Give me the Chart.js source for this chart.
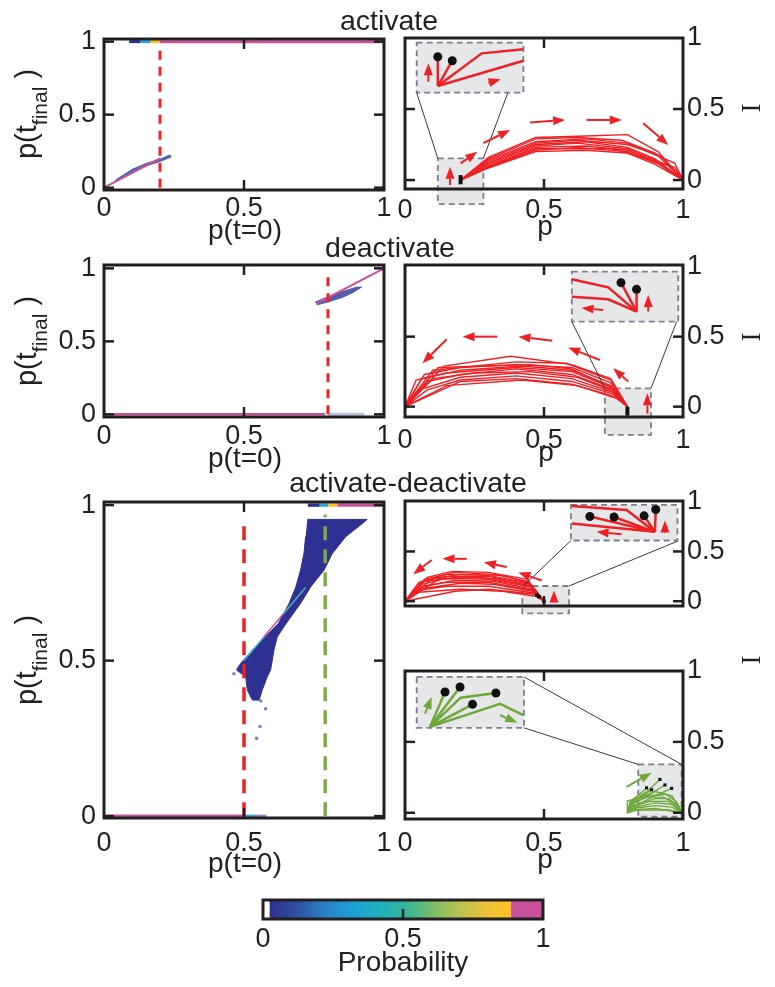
<!DOCTYPE html>
<html>
<head>
<meta charset="utf-8">
<script src="https://cdn.jsdelivr.net/npm/chart.js@4.4.1/dist/chart.umd.min.js"></script>
<style>
body{margin:0;background:#fff}
#wrap{position:relative;width:775px;height:987px;overflow:hidden}
#wrap canvas{position:absolute;left:0;top:0}
.lbl{position:absolute;white-space:nowrap;color:#231f20;font-family:'Liberation Sans',Arial,sans-serif}
</style>
</head>
<body>
<div id="wrap">
<canvas id="heatAct" width="775" height="987"></canvas>
<canvas id="trajAct" width="775" height="987"></canvas>
<canvas id="heatDeact" width="775" height="987"></canvas>
<canvas id="trajDeact" width="775" height="987"></canvas>
<canvas id="heatAD" width="775" height="987"></canvas>
<canvas id="trajADred" width="775" height="987"></canvas>
<canvas id="trajADgreen" width="775" height="987"></canvas>
<canvas id="colorbar" width="775" height="987"></canvas>
</div>
<script>
// ---------- data ----------
const tickMain = [0, 0.5, 1];

// activate: p(t_final) vs p(t=0)
const actThreshold = 0.2;
const actDiag = [[0, 0], [0.2, 0.2]];
const actBlob = [[0.04, 0.05], [0.1, 0.125], [0.15, 0.165], [0.2, 0.195], [0.235, 0.224], [0.24, 0.21], [0.2, 0.18], [0.15, 0.148], [0.1, 0.108], [0.04, 0.04]];
const actTopSeg = [[0.09, 0.13], [0.13, 0.165], [0.165, 0.2], [0.2, 1]];

// deactivate
const deactThreshold = 0.8;
const deactBottomSeg = [[0, 0.79], [0.8, 0.93]];
const deactDiag = [[0.76, 0.76], [1, 1]];
const deactBlob = [[0.755, 0.77], [0.8, 0.805], [0.85, 0.84], [0.9, 0.87], [0.92, 0.872], [0.89, 0.835], [0.85, 0.8], [0.8, 0.77], [0.76, 0.75]];

// activate-deactivate
const adThresholdRed = 0.5;
const adThresholdGreen = 0.79;
const adBottomSeg = [[0, 0.5], [0.5, 0.54], [0.54, 0.58]];
const adTopSeg = [[0.728, 0.77], [0.77, 0.8], [0.8, 0.833], [0.833, 1]];
const adBlob = [[0.726, 0.954], [0.94, 0.954], [0.923, 0.941], [0.863, 0.898], [0.815, 0.844], [0.786, 0.791], [0.738, 0.737], [0.702, 0.684], [0.651, 0.62], [0.619, 0.577], [0.607, 0.534], [0.599, 0.491], [0.595, 0.47], [0.583, 0.448], [0.565, 0.405], [0.554, 0.373], [0.53, 0.373], [0.512, 0.405], [0.506, 0.448], [0.473, 0.47], [0.488, 0.491], [0.53, 0.534], [0.577, 0.577], [0.623, 0.62], [0.661, 0.684], [0.685, 0.737], [0.702, 0.791], [0.714, 0.844], [0.72, 0.898]];
const adDiagSeg = [[[0.5, 0.5], [0.57, 0.575]], [[0.57, 0.575], [0.64, 0.65]], [[0.64, 0.65], [0.72, 0.735]]];
const adOutliers = [[0.464, 0.458], [0.545, 0.25], [0.557, 0.288], [0.577, 0.345], [0.56, 0.37]];

// trajectories I vs p
const actTraj = [
  [[0.2, 0], [0.3, 0.16], [0.47, 0.3], [0.65, 0.31], [0.8, 0.32], [0.91, 0.2], [1, 0]],
  [[0.2, 0], [0.3, 0.15], [0.47, 0.29], [0.62, 0.3], [0.78, 0.28], [0.9, 0.19], [1, 0]],
  [[0.2, 0], [0.3, 0.14], [0.47, 0.27], [0.65, 0.29], [0.8, 0.26], [0.97, 0.12], [1, 0]],
  [[0.2, 0], [0.3, 0.13], [0.47, 0.26], [0.62, 0.28], [0.8, 0.25], [0.92, 0.17], [1, 0]],
  [[0.2, 0], [0.3, 0.12], [0.47, 0.25], [0.65, 0.27], [0.8, 0.23], [0.9, 0.15], [1, 0]],
  [[0.2, 0], [0.3, 0.11], [0.47, 0.24], [0.62, 0.26], [0.8, 0.22], [0.95, 0.1], [1, 0]],
  [[0.2, 0], [0.3, 0.1], [0.47, 0.23], [0.65, 0.24], [0.8, 0.21], [0.9, 0.13], [1, 0]],
  [[0.2, 0], [0.3, 0.09], [0.47, 0.21], [0.62, 0.23], [0.8, 0.2], [0.93, 0.1], [1, 0]],
  [[0.2, 0], [0.3, 0.085], [0.47, 0.2], [0.65, 0.21], [0.8, 0.19], [0.9, 0.11], [1, 0]],
  [[0.2, 0], [0.3, 0.095], [0.47, 0.22], [0.62, 0.22], [0.75, 0.22], [0.97, 0.09], [1, 0]]
];
const deactTraj = [
  [[0.8, 0], [0.74, 0.2], [0.6, 0.3], [0.38, 0.36], [0.14, 0.29], [0, 0]],
  [[0.8, 0], [0.74, 0.19], [0.58, 0.31], [0.4, 0.32], [0.1, 0.26], [0, 0]],
  [[0.8, 0], [0.74, 0.17], [0.6, 0.28], [0.4, 0.3], [0.2, 0.28], [0.07, 0.23], [0, 0]],
  [[0.8, 0], [0.74, 0.15], [0.6, 0.26], [0.42, 0.29], [0.2, 0.26], [0.06, 0.2], [0, 0]],
  [[0.8, 0], [0.74, 0.14], [0.6, 0.25], [0.4, 0.28], [0.15, 0.24], [0.04, 0.19], [0, 0]],
  [[0.8, 0], [0.75, 0.12], [0.6, 0.23], [0.4, 0.27], [0.2, 0.23], [0.08, 0.18], [0, 0]],
  [[0.8, 0], [0.75, 0.11], [0.62, 0.21], [0.45, 0.25], [0.25, 0.24], [0.1, 0.2], [0, 0]],
  [[0.8, 0], [0.75, 0.1], [0.6, 0.2], [0.4, 0.24], [0.2, 0.21], [0.05, 0.12], [0, 0]],
  [[0.8, 0], [0.75, 0.09], [0.6, 0.18], [0.4, 0.22], [0.2, 0.19], [0.08, 0.12], [0, 0]],
  [[0.8, 0], [0.76, 0.07], [0.6, 0.16], [0.4, 0.2], [0.2, 0.18], [0, 0]],
  [[0.8, 0], [0.76, 0.06], [0.62, 0.15], [0.42, 0.19], [0.15, 0.15], [0, 0]],
  [[0.8, 0], [0.75, 0.13], [0.6, 0.27], [0.45, 0.3], [0.12, 0.28], [0, 0]]
];
const adTrajRed = [
  [[0.5, 0], [0.44, 0.22], [0.3, 0.29], [0.17, 0.3], [0.08, 0.24], [0, 0]],
  [[0.5, 0], [0.44, 0.2], [0.32, 0.27], [0.18, 0.29], [0.07, 0.22], [0, 0]],
  [[0.5, 0], [0.45, 0.18], [0.3, 0.26], [0.15, 0.27], [0.06, 0.2], [0, 0]],
  [[0.5, 0], [0.45, 0.17], [0.3, 0.25], [0.16, 0.25], [0.05, 0.19], [0, 0]],
  [[0.5, 0], [0.45, 0.15], [0.32, 0.23], [0.18, 0.24], [0.07, 0.2], [0, 0]],
  [[0.5, 0], [0.46, 0.14], [0.3, 0.22], [0.15, 0.23], [0.06, 0.17], [0, 0]],
  [[0.5, 0], [0.46, 0.12], [0.32, 0.2], [0.18, 0.21], [0.07, 0.15], [0, 0]],
  [[0.5, 0], [0.46, 0.11], [0.3, 0.19], [0.15, 0.19], [0.06, 0.15], [0, 0]],
  [[0.5, 0], [0.46, 0.1], [0.32, 0.17], [0.2, 0.18], [0.07, 0.13], [0, 0]],
  [[0.5, 0], [0.47, 0.08], [0.3, 0.15], [0.15, 0.15], [0.05, 0.11], [0, 0]],
  [[0.5, 0], [0.47, 0.07], [0.3, 0.12], [0.18, 0.1], [0, 0]],
  [[0.5, 0], [0.44, 0.19], [0.35, 0.26], [0.2, 0.27], [0.1, 0.23], [0, 0]],
  [[0.5, 0], [0.45, 0.16], [0.28, 0.24], [0.12, 0.22], [0, 0]],
  [[0.5, 0], [0.47, 0.05], [0.35, 0.1], [0.2, 0.12], [0.05, 0.09], [0, 0]]
];
const adTrajGreen = [
  [[0.8, 0], [0.81, 0.07], [0.87, 0.15], [0.917, 0.235]],
  [[0.8, 0], [0.82, 0.06], [0.88, 0.13], [0.935, 0.196]],
  [[0.8, 0], [0.83, 0.05], [0.9, 0.12], [0.959, 0.172]],
  [[0.8, 0], [0.81, 0.08], [0.85, 0.14], [0.869, 0.176]],
  [[0.8, 0], [0.82, 0.07], [0.86, 0.13], [0.887, 0.162]],
  [[0.8, 0], [0.81, 0.06], [0.88, 0.12], [0.94, 0.13], [0.975, 0.08], [1, 0]],
  [[0.8, 0], [0.82, 0.05], [0.9, 0.1], [0.95, 0.1], [1, 0]],
  [[0.8, 0], [0.81, 0.04], [0.88, 0.08], [0.95, 0.08], [1, 0]],
  [[0.8, 0], [0.83, 0.04], [0.9, 0.07], [0.96, 0.06], [1, 0]],
  [[0.8, 0], [0.82, 0.03], [0.9, 0.05], [0.96, 0.04], [1, 0]],
  [[0.8, 0], [0.81, 0.02], [0.9, 0.03], [1, 0]],
  [[0.8, 0], [0.8, 0.085], [0.86, 0.11], [0.93, 0.11], [0.97, 0.07], [1, 0]],
  [[0.8, 0], [0.84, 0.02], [0.95, 0.02], [1, 0]],
  [[0.8, 0], [0.82, 0.09], [0.9, 0.15], [0.96, 0.12], [1, 0]]
];
const adGreenEnds = [[0.917, 0.235], [0.935, 0.196], [0.959, 0.172], [0.869, 0.176], [0.887, 0.162], [1, 0]];

// direction arrows [x1, y1, x2, y2]
const actArrows = [[0.2, 0.117, 0.26, 0.2], [0.282, 0.26, 0.378, 0.353], [0.45, 0.406, 0.576, 0.423], [0.653, 0.423, 0.78, 0.423], [0.857, 0.4, 0.947, 0.247]];
const deactArrows = [[0.803, 0.179, 0.749, 0.274], [0.701, 0.333, 0.587, 0.423], [0.53, 0.471, 0.408, 0.5], [0.332, 0.5, 0.207, 0.5], [0.15, 0.481, 0.063, 0.31]];
const adRedArrows = [[0.492, 0.208, 0.408, 0.289], [0.366, 0.343, 0.284, 0.391], [0.222, 0.426, 0.135, 0.426], [0.096, 0.414, 0.03, 0.272]];
const adGreenArrows = [[0.797, 0.183, 0.887, 0.282]];

// insets: magnified box, zoom region, connector lines, contents
const actInsetBoxes = [[0.042, 0.615, 0.426, 0.967], [0.118, 0.153, 0.282, -0.169]];
const actInsetLinks = [[0.042, 0.615, 0.118, 0.153], [0.37, 0.615, 0.282, 0.153]];
const actInsetLines = [[[0.118, 0.662], [0.118, 0.868]], [[0.118, 0.662], [0.17, 0.84]], [[0.118, 0.662], [0.276, 0.892], [0.426, 0.92]], [[0.118, 0.662], [0.426, 0.84]]];
const actInsetDots = [[0.118, 0.868], [0.17, 0.84]];
const actInsetArrows = [[0.084, 0.692, 0.084, 0.822], [0.3, 0.685, 0.344, 0.709], [0.162, -0.035, 0.162, 0.094]];
const actStart = [[0.2, -0.03], [0.2, 0.035]];

const deactInsetBoxes = [[0.6, 0.607, 0.983, 0.964], [0.719, 0.131, 0.885, -0.202]];
const deactInsetLinks = [[0.6, 0.607, 0.719, 0.131], [0.977, 0.607, 0.885, 0.131]];
const deactInsetLines = [[[0.833, 0.679], [0.777, 0.886]], [[0.833, 0.679], [0.833, 0.838]], [[0.833, 0.679], [0.731, 0.852], [0.6, 0.91]], [[0.833, 0.679], [0.731, 0.767], [0.6, 0.786]]];
const deactInsetDots = [[0.777, 0.886], [0.833, 0.838]];
const deactInsetArrows = [[0.713, 0.69, 0.635, 0.705], [0.875, 0.679, 0.875, 0.798], [0.872, -0.05, 0.872, 0.095]];
const deactStart = [[0.8, -0.065], [0.8, 0]];

const adRedInsetBoxes = [[0.597, 0.61, 0.98, 0.969], [0.422, 0.153, 0.59, -0.123]];
const adRedInsetLinks = [[0.597, 0.61, 0.426, 0.153], [0.98, 0.603, 0.59, 0.153]];
const adRedInsetLines = [[[0.899, 0.697], [0.902, 0.922]], [[0.899, 0.697], [0.86, 0.858]], [[0.899, 0.697], [0.752, 0.846]], [[0.899, 0.697], [0.665, 0.851]], [[0.899, 0.697], [0.797, 0.917], [0.6, 0.957]], [[0.899, 0.697], [0.6, 0.78]]];
const adRedInsetDots = [[0.902, 0.922], [0.86, 0.858], [0.752, 0.846], [0.665, 0.851]];
const adRedInsetArrows = [[0.779, 0.674, 0.689, 0.697], [0.935, 0.7, 0.935, 0.81], [0.536, -0.01, 0.536, 0.108]];
const adRedMarks = [[0.474, 0.064], [0.482, 0.045], [0.5, 0], [0, 0]];

const adGreenInsetBoxes = [[0.042, 0.599, 0.428, 0.958], [0.839, 0.341, 0.995, -0.028]];
const adGreenInsetLinks = [[0.428, 0.958, 0.995, 0.341], [0.428, 0.599, 0.839, 0.341]];
const adGreenInsetLines = [[[0.09, 0.606], [0.144, 0.852]], [[0.09, 0.606], [0.198, 0.887]], [[0.09, 0.606], [0.2, 0.812], [0.327, 0.845]], [[0.09, 0.606], [0.243, 0.765]], [[0.09, 0.606], [0.342, 0.768], [0.426, 0.688]]];
const adGreenInsetDots = [[0.144, 0.852], [0.198, 0.887], [0.327, 0.845], [0.243, 0.765]];
const adGreenInsetArrows = [[0.072, 0.7, 0.096, 0.817], [0.342, 0.688, 0.404, 0.636]];

// colour bar
const cbGradient = [0.025, 0.885];
const cbTop = [0.885, 1];
const cbColors = ['#2e3192', '#2f4fa2', '#2a7fc4', '#1d9fd6', '#1cb0c0', '#2fb59e', '#73bd6c', '#b5c352', '#e8c23a', '#fcc421'];

// ---------- styling ----------
const FONT = "'Liberation Sans', Arial, sans-serif";
const SERIF = "'Liberation Serif', serif";
const INK = '#231f20';
const RED = '#ed2024';
const GREEN = '#6fa83a';
const NAVY = '#2e3192';
const PINK = '#c9509b';
const CYAN = '#29a9d6';
const YELLOW = '#f5c21f';
const segColors = [NAVY, CYAN, YELLOW, PINK];
Chart.defaults.font.family = FONT;
Chart.defaults.color = INK;

const pts = arr => arr.map(([x, y]) => ({x, y}));
function lineDs(arr, color, width, extra) {
  return Object.assign({data: pts(arr), showLine: true, borderColor: color, backgroundColor: color,
    borderWidth: width, pointRadius: 0, tension: 0}, extra || {});
}
function dotDs(arr, r, style) {
  return {data: pts(arr), showLine: false, pointRadius: r, pointStyle: style || 'circle',
    backgroundColor: '#111', borderWidth: 0, order: -1};
}
const hSeg = (seg, y) => [[seg[0], y], [seg[1], y]];

function framePlugin(xt, yt, xSides) {
  return {
    id: 'frame',
    afterDraw(chart) {
      const {ctx, chartArea: a, scales: {x, y}} = chart;
      const seg = (x1, y1, x2, y2) => { ctx.beginPath(); ctx.moveTo(x1, y1); ctx.lineTo(x2, y2); ctx.stroke(); };
      ctx.save();
      ctx.strokeStyle = INK;
      ctx.lineWidth = 2.5;
      xt.forEach(v => {
        const px = x.getPixelForValue(v);
        if (xSides.includes('bottom')) seg(px, a.bottom, px, a.bottom - 10);
        if (xSides.includes('top')) seg(px, a.top, px, a.top + 10);
      });
      yt.forEach(v => {
        const py = y.getPixelForValue(v);
        seg(a.left, py, a.left + 10, py);
        seg(a.right, py, a.right - 10, py);
      });
      ctx.lineWidth = 3;
      ctx.strokeRect(a.left, a.top, a.right - a.left, a.bottom - a.top);
      ctx.restore();
    }
  };
}

// rotated axis titles (bottom-to-top), drawn on the chart canvas
function rotTitlePlugin(items) {
  return {
    id: 'rotTitle',
    afterDraw(chart) {
      const ctx = chart.ctx;
      items.forEach(it => {
        ctx.save();
        ctx.translate(it.x, it.y);
        ctx.rotate(-Math.PI / 2);
        ctx.fillStyle = INK;
        ctx.textBaseline = 'alphabetic';
        ctx.textAlign = 'left';
        let total = 0;
        const parts = it.parts.map(p => {
          ctx.font = `${p.size}px ${p.fam || FONT}`;
          const w = ctx.measureText(p.t).width;
          total += w;
          return Object.assign({w}, p);
        });
        let cx = -total / 2;
        parts.forEach(p => {
          ctx.font = `${p.size}px ${p.fam || FONT}`;
          ctx.fillText(p.t, cx, p.dy || 0);
          cx += p.w;
        });
        ctx.restore();
      });
    }
  };
}
const pTitle = (cy) => ({x: 36, y: cy, parts: [{t: 'p(t', size: 29}, {t: 'final', size: 21, dy: 11}, {t: ' )', size: 29}]});
const iTitle = (cy) => ({x: 760, y: cy, parts: [{t: 'I', size: 27, fam: SERIF}]});

function drawArrow(ctx, x1, y1, x2, y2) {
  const ang = Math.atan2(y2 - y1, x2 - x1), hl = 12, hw = 4.5;
  const bx = x2 - hl * Math.cos(ang), by = y2 - hl * Math.sin(ang);
  ctx.beginPath(); ctx.moveTo(x1, y1); ctx.lineTo(bx, by); ctx.stroke();
  ctx.beginPath();
  ctx.moveTo(x2, y2);
  ctx.lineTo(bx + hw * Math.sin(ang), by - hw * Math.cos(ang));
  ctx.lineTo(bx - hw * Math.sin(ang), by + hw * Math.cos(ang));
  ctx.closePath(); ctx.fill();
}

function decorPlugin(d) {
  return {
    id: 'decor',
    beforeDatasetsDraw(chart) {
      const {ctx, scales: {x, y}} = chart;
      ctx.save();
      ctx.fillStyle = '#e6e7e8';
      ctx.strokeStyle = '#7d7f8e';
      ctx.lineWidth = 1.8;
      ctx.setLineDash([6, 4]);
      (d.boxes || []).forEach(([x0, y0, x1, y1]) => {
        const l = x.getPixelForValue(x0), r = x.getPixelForValue(x1);
        const t = y.getPixelForValue(y0), b = y.getPixelForValue(y1);
        ctx.fillRect(l, t, r - l, b - t);
        ctx.strokeRect(l, t, r - l, b - t);
      });
      ctx.restore();
    },
    afterDatasetsDraw(chart) {
      const {ctx, scales: {x, y}} = chart;
      ctx.save();
      ctx.strokeStyle = '#3a3a3a';
      ctx.lineWidth = 1;
      (d.links || []).forEach(([x1, y1, x2, y2]) => {
        ctx.beginPath();
        ctx.moveTo(x.getPixelForValue(x1), y.getPixelForValue(y1));
        ctx.lineTo(x.getPixelForValue(x2), y.getPixelForValue(y2));
        ctx.stroke();
      });
      ctx.strokeStyle = d.color;
      ctx.fillStyle = d.color;
      ctx.lineWidth = 2;
      (d.arrows || []).forEach(([x1, y1, x2, y2]) => drawArrow(ctx,
        x.getPixelForValue(x1), y.getPixelForValue(y1), x.getPixelForValue(x2), y.getPixelForValue(y2)));
      ctx.restore();
    }
  };
}

function makePanel(id, p) {
  const WY = 70, HX = 44;
  const [L, T, R, B] = p.box;
  const onRight = p.yPos === 'right';
  const showX = p.showX !== false;
  const pad = {
    top: T,
    left: onRight ? L : L - WY,
    right: onRight ? 775 - R - WY : 775 - R,
    bottom: 987 - B - (showX ? HX : 0)
  };
  return new Chart(document.getElementById(id), {
    type: 'scatter',
    data: {datasets: p.datasets},
    options: {
      responsive: false, animation: false, events: [],
      layout: {padding: pad},
      plugins: {legend: {display: false}, tooltip: {enabled: false}},
      scales: {
        x: {
          type: 'linear', min: p.xr[0], max: p.xr[1], display: showX,
          afterBuildTicks: s => { s.ticks = tickMain.map(v => ({value: v})); },
          afterFit: s => { s.height = HX; s.paddingLeft = 0; s.paddingRight = 0; },
          grid: {display: false, drawTicks: false}, border: {display: false},
          ticks: {font: {size: 27}, padding: p.xPad, maxRotation: 0, autoSkip: false, callback: v => String(v)}
        },
        y: {
          type: 'linear', position: onRight ? 'right' : 'left', min: p.yr[0], max: p.yr[1],
          afterBuildTicks: s => { s.ticks = tickMain.map(v => ({value: v})); },
          afterFit: s => { s.width = WY; s.paddingTop = 0; s.paddingBottom = 0; },
          grid: {display: false, drawTicks: false}, border: {display: false},
          ticks: {font: {size: 27}, padding: onRight ? 4 : 8, autoSkip: false, callback: v => String(v)}
        }
      }
    },
    plugins: [framePlugin(p.xt, p.yt, ['top', 'bottom']), decorPlugin(p.decor || {}), rotTitlePlugin(p.titles || [])]
  });
}

// ---------- heat panels ----------
makePanel('heatAct', {
  box: [104, 39, 384, 190], xr: [0, 1], yr: [-0.016, 1.018], xPad: 2, xt: [0.5], yt: tickMain,
  titles: [pTitle(114)],
  datasets: [
    lineDs([[actThreshold, 0], [actThreshold, 0.97]], RED, 3, {borderDash: [9, 7]}),
    ...actTopSeg.map((s, i) => lineDs(hSeg(s, 1), segColors[i], 3)),
    lineDs(actDiag, PINK, 2),
    lineDs(actBlob, '#4a5cae', 1, {fill: 'shape', backgroundColor: 'rgba(46,49,146,0.75)'})
  ]
});
makePanel('heatDeact', {
  box: [104, 265, 384, 417], xr: [0, 1], yr: [-0.018, 1.023], xPad: 3, xt: [0.5], yt: tickMain,
  titles: [pTitle(341)],
  datasets: [
    lineDs([[deactThreshold, 0], [deactThreshold, 0.97]], RED, 3, {borderDash: [9, 7]}),
    lineDs(hSeg(deactBottomSeg[0], 0), PINK, 2.5),
    lineDs(hSeg(deactBottomSeg[1], 0), '#b9c0e0', 3),
    lineDs(deactDiag, PINK, 2),
    lineDs(deactBlob, '#4a5cae', 1, {fill: 'shape', backgroundColor: 'rgba(46,49,146,0.8)'})
  ]
});
makePanel('heatAD', {
  box: [104, 502, 384, 818], xr: [0, 1], yr: [-0.006, 1.01], xPad: 9, xt: [0.5], yt: tickMain,
  titles: [pTitle(660)],
  datasets: [
    lineDs([[adThresholdRed, 0], [adThresholdRed, 0.96]], RED, 3.5, {borderDash: [14, 9]}),
    lineDs([[adThresholdGreen, 0], [adThresholdGreen, 0.97]], '#7cae3e', 3.5, {borderDash: [14, 9]}),
    ...adTopSeg.map((s, i) => lineDs(hSeg(s, 1), segColors[i], 3.5)),
    lineDs(hSeg(adBottomSeg[0], 0), PINK, 3.5),
    lineDs(hSeg(adBottomSeg[1], 0), CYAN, 3),
    lineDs(hSeg(adBottomSeg[2], 0), '#7f8cc8', 3),
    lineDs(adDiagSeg[0], '#3cb6d0', 1.5),
    lineDs(adDiagSeg[1], PINK, 1.5),
    lineDs(adDiagSeg[2], '#4fb0b0', 1.5),
    {data: pts(adOutliers), showLine: false, pointRadius: 1.8, backgroundColor: '#7d88c4', borderWidth: 0},
    lineDs(adBlob, NAVY, 1, {fill: 'shape', backgroundColor: NAVY})
  ]
});

// ---------- trajectory panels ----------
makePanel('trajAct', {
  box: [405, 38, 683, 189], xr: [0, 1], yr: [-0.063, 1.0], yPos: 'right', xPad: 5, xt: [0.5], yt: [0, 0.5],
  titles: [iTitle(108)],
  decor: {boxes: actInsetBoxes, links: actInsetLinks, arrows: actArrows.concat(actInsetArrows), color: RED},
  datasets: [
    dotDs(actInsetDots, 4.5),
    lineDs(actStart, '#111', 4),
    ...actInsetLines.map(l => lineDs(l, RED, 2.5)),
    ...actTraj.map(c => lineDs(c, RED, 1.4))
  ]
});
makePanel('trajDeact', {
  box: [405, 265, 683, 417], xr: [0, 1], yr: [-0.074, 1.012], yPos: 'right', xPad: 7, xt: [0.5], yt: [0, 0.5],
  titles: [iTitle(337)],
  decor: {boxes: deactInsetBoxes, links: deactInsetLinks, arrows: deactArrows.concat(deactInsetArrows), color: RED},
  datasets: [
    dotDs(deactInsetDots, 4.5),
    lineDs(deactStart, '#111', 4),
    dotDs([[0, 0]], 2.5, 'rect'),
    ...deactInsetLines.map(l => lineDs(l, RED, 2.5)),
    ...deactTraj.map(c => lineDs(c, RED, 1.4))
  ]
});
makePanel('trajADred', {
  box: [405, 501, 683, 650], xr: [0, 1], yr: [-0.048, 1.007], yPos: 'right', showX: false, xt: [0.5], yt: [0, 0.5],
  titles: [iTitle(660)],
  decor: {boxes: adRedInsetBoxes, links: adRedInsetLinks, arrows: adRedArrows.concat(adRedInsetArrows), color: RED},
  datasets: [
    dotDs(adRedInsetDots, 4.5),
    dotDs(adRedMarks, 2.5, 'rect'),
    ...adRedInsetLines.map(l => lineDs(l, RED, 2.5)),
    ...adTrajRed.map(c => lineDs(c, RED, 1.4))
  ]
});
makePanel('trajADgreen', {
  box: [405, 671, 683, 819], xr: [0, 1], yr: [-0.044, 1.0], yPos: 'right', xPad: 8, xt: [0.5], yt: [0, 0.5],
  decor: {boxes: adGreenInsetBoxes, links: adGreenInsetLinks, arrows: adGreenArrows.concat(adGreenInsetArrows), color: GREEN},
  datasets: [
    dotDs(adGreenInsetDots, 4.5),
    dotDs(adGreenEnds, 2.2, 'rect'),
    ...adGreenInsetLines.map(l => lineDs(l, GREEN, 2.5)),
    ...adTrajGreen.map(c => lineDs(c, GREEN, 1.4))
  ]
});

// ---------- colour bar ----------
new Chart(document.getElementById('colorbar'), {
  type: 'bar',
  data: {
    labels: ['Probability'],
    datasets: [
      {data: [cbGradient], grouped: false, barPercentage: 1, categoryPercentage: 1, borderWidth: 0,
        backgroundColor: c => {
          const xs = c.chart.scales.x;
          if (!c.chart.chartArea || !xs) return NAVY;
          const g = c.chart.ctx.createLinearGradient(xs.getPixelForValue(cbGradient[0]), 0, xs.getPixelForValue(cbGradient[1]), 0);
          cbColors.forEach((col, i) => g.addColorStop(i / (cbColors.length - 1), col));
          return g;
        }},
      {data: [cbTop], grouped: false, barPercentage: 1, categoryPercentage: 1, borderWidth: 0, backgroundColor: PINK}
    ]
  },
  options: {
    indexAxis: 'y', responsive: false, animation: false, events: [],
    layout: {padding: {left: 263, right: 775 - 543, top: 900, bottom: 987 - 919 - 40}},
    plugins: {legend: {display: false}, tooltip: {enabled: false}},
    scales: {
      x: {type: 'linear', min: 0, max: 1,
        afterBuildTicks: s => { s.ticks = tickMain.map(v => ({value: v})); },
        afterFit: s => { s.height = 40; s.paddingLeft = 0; s.paddingRight = 0; },
        grid: {display: false, drawTicks: false}, border: {display: false},
        ticks: {font: {size: 27}, padding: 4, maxRotation: 0, autoSkip: false, callback: v => String(v)}},
      y: {display: false}
    }
  },
  plugins: [framePlugin([0.5], [], ['bottom'])]
});

// ---------- horizontal text labels ----------
const wrap = document.getElementById('wrap');
function addText(html, cx, base, size) {
  const d = document.createElement('div');
  d.className = 'lbl';
  d.innerHTML = html;
  d.style.cssText = `left:${cx}px;top:${base - 0.8465 * size}px;font-size:${size}px;line-height:${size}px;transform:translateX(-50%);`;
  wrap.appendChild(d);
}
addText('activate', 389, 30, 28.5);
addText('deactivate', 390, 257, 28.5);
addText('activate-deactivate', 408, 492, 28.5);
addText('p(t=0)', 245, 240, 28);
addText('p(t=0)', 245, 468, 28);
addText('p(t=0)', 245, 873, 28);
addText('p', 545, 236, 28);
addText('p', 546, 462, 28);
addText('p', 545, 869, 28);
addText('Probability', 403, 972, 28);
</script>
</body>
</html>
